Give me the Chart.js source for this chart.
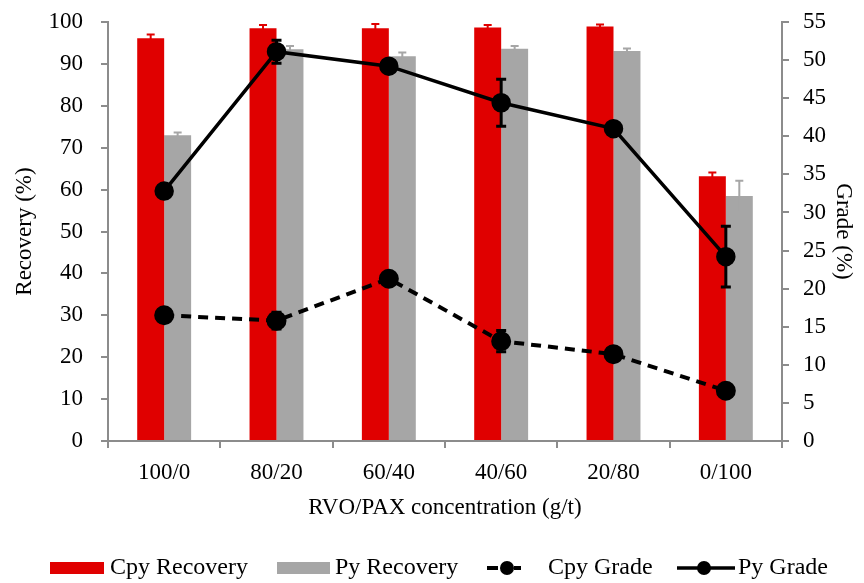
<!DOCTYPE html>
<html>
<head>
<meta charset="utf-8">
<script src="https://cdn.jsdelivr.net/npm/chart.js@4/dist/chart.umd.min.js"></script>
<style>
  body { margin: 0; background: #fff; }
  canvas { display: block; }
</style>
</head>
<body>
<canvas id="grafico" width="864" height="583"></canvas>
<script>
// Datos
const categorias = ['100/0', '80/20', '60/40', '40/60', '20/80', '0/100'];
const cpyRecovery = [96.1, 98.5, 98.5, 98.7, 98.9, 63.2];
const cpyRecoveryErr = [0.9, 0.8, 1.0, 0.6, 0.5, 0.9];
const pyRecovery = [73.0, 93.5, 91.8, 93.6, 93.1, 58.5];
const pyRecoveryErr = [0.6, 0.8, 0.9, 0.7, 0.6, 3.6];
const cpyGrade = [16.5, 15.8, 21.3, 13.1, 11.4, 6.6];
const cpyGradeErr = [0.3, 1.1, 0.3, 1.4, 0.8, 0.3];
const pyGrade = [32.8, 51.1, 49.2, 44.4, 41.0, 24.2];
const pyGradeErr = [0.3, 1.5, 0.3, 3.1, 0.3, 4.0];

const fuente = '"Liberation Serif", "Times New Roman", serif';
const gris = '#8c8c8c';
const rojo = '#e00000';
const grisBarra = '#a6a6a6';

// Barras de error dibujadas con las escalas del gráfico
const errores = [cpyRecoveryErr, pyRecoveryErr, cpyGradeErr, pyGradeErr];
const erroresPlugin = {
    id: 'errores',
    afterDatasetDraw(chart, args) {
        const i = args.index;
        const ds = chart.data.datasets[i];
        const errs = errores[i];
        const escala = chart.scales[ds.yAxisID];
        const c = chart.ctx;
        const esBarra = ds.type === 'bar';
        c.save();
        c.strokeStyle = esBarra ? ds.backgroundColor : '#000';
        c.lineWidth = esBarra ? 2 : 3;
        args.meta.data.forEach((el, j) => {
            const v = ds.data[j];
            const e = errs[j];
            const yArriba = escala.getPixelForValue(v + e);
            const yAbajo = escala.getPixelForValue(v - e);
            const media = esBarra ? 4 : 5;
            c.beginPath();
            c.moveTo(el.x, yArriba);
            c.lineTo(el.x, yAbajo);
            c.moveTo(el.x - media, yArriba);
            c.lineTo(el.x + media, yArriba);
            if (!esBarra) {
                c.moveTo(el.x - media, yAbajo);
                c.lineTo(el.x + media, yAbajo);
            }
            c.stroke();
        });
        c.restore();
    }
};

// Leyenda propia en la parte de abajo
const leyendaPlugin = {
    id: 'leyenda',
    afterDraw(chart) {
        const c = chart.ctx;
        const y = 568;
        c.save();
        c.font = '24px ' + fuente;
        c.textBaseline = 'middle';
        c.fillStyle = '#000';

        c.fillStyle = rojo;
        c.fillRect(50, y - 6, 54, 12);
        c.fillStyle = '#000';
        c.fillText('Cpy Recovery', 110, y);

        c.fillStyle = grisBarra;
        c.fillRect(277, y - 6, 53, 12);
        c.fillStyle = '#000';
        c.fillText('Py Recovery', 335, y);

        c.strokeStyle = '#000';
        c.lineWidth = 4;
        c.beginPath();
        c.moveTo(487, y); c.lineTo(498, y);
        c.moveTo(514, y); c.lineTo(521, y);
        c.stroke();
        c.beginPath();
        c.arc(507, y, 7, 0, Math.PI * 2);
        c.fill();
        c.fillText('Cpy Grade', 548, y);

        c.lineWidth = 3.5;
        c.beginPath();
        c.moveTo(677, y); c.lineTo(735, y);
        c.stroke();
        c.beginPath();
        c.arc(704, y, 7, 0, Math.PI * 2);
        c.fill();
        c.fillText('Py Grade', 738, y);
        c.restore();
    }
};

// Ajusta el ancho del eje y quita el relleno extra de las etiquetas
function ajustarEjeY(ancho) {
    return (scale) => {
        scale.width = ancho;
        scale.paddingTop = 0;
        scale.paddingBottom = 0;
    };
}

const ctx = document.getElementById('grafico').getContext('2d');
const grafico = new Chart(ctx, {
    data: {
        labels: categorias,
        datasets: [{
            type: 'bar',
            label: 'Cpy Recovery',
            data: cpyRecovery,
            backgroundColor: rojo,
            yAxisID: 'y',
            order: 2,
            categoryPercentage: 0.48,
            barPercentage: 1
        }, {
            type: 'bar',
            label: 'Py Recovery',
            data: pyRecovery,
            backgroundColor: grisBarra,
            yAxisID: 'y',
            order: 2,
            categoryPercentage: 0.48,
            barPercentage: 1
        }, {
            type: 'line',
            label: 'Cpy Grade',
            data: cpyGrade,
            borderColor: '#000',
            backgroundColor: '#000',
            borderWidth: 4,
            borderDash: [10, 7],
            pointRadius: 8,
            pointHoverRadius: 8,
            yAxisID: 'y1',
            order: 1
        }, {
            type: 'line',
            label: 'Py Grade',
            data: pyGrade,
            borderColor: '#000',
            backgroundColor: '#000',
            borderWidth: 3.5,
            pointRadius: 8,
            pointHoverRadius: 8,
            yAxisID: 'y1',
            order: 1
        }]
    },
    options: {
        responsive: false,
        animation: false,
        layout: { padding: { top: 22, left: 0, right: 0, bottom: 0 } },
        plugins: {
            legend: { display: false },
            tooltip: { enabled: false }
        },
        scales: {
            x: {
                afterFit: (scale) => { scale.height = 142; },
                grid: { drawOnChartArea: false, tickLength: 7, color: gris, lineWidth: 2, offset: true },
                border: { color: gris, width: 2 },
                ticks: { color: '#000', font: { family: fuente, size: 23 }, padding: 11 },
                title: {
                    display: true,
                    text: 'RVO/PAX concentration (g/t)',
                    color: '#000',
                    font: { family: fuente, size: 23 },
                    padding: { top: 0, bottom: 61 }
                }
            },
            y: {
                position: 'left',
                min: 0,
                max: 100,
                afterFit: ajustarEjeY(108),
                grid: { drawOnChartArea: false, tickLength: 7, color: gris, lineWidth: 2 },
                border: { color: gris, width: 2 },
                ticks: { stepSize: 10, color: '#000', font: { family: fuente, size: 23 }, padding: 18 },
                title: {
                    display: true,
                    text: 'Recovery (%)',
                    color: '#000',
                    font: { family: fuente, size: 23 },
                    padding: 11
                }
            },
            y1: {
                position: 'right',
                min: 0,
                max: 55,
                afterFit: ajustarEjeY(82),
                grid: { drawOnChartArea: false, tickLength: 7, color: gris, lineWidth: 2 },
                border: { color: gris, width: 2 },
                ticks: { stepSize: 5, color: '#000', font: { family: fuente, size: 23 }, padding: 14 },
                title: {
                    display: true,
                    text: 'Grade (%)',
                    color: '#000',
                    font: { family: fuente, size: 23 },
                    padding: 7
                }
            }
        }
    },
    plugins: [erroresPlugin, leyendaPlugin]
});
</script>
</body>
</html>
